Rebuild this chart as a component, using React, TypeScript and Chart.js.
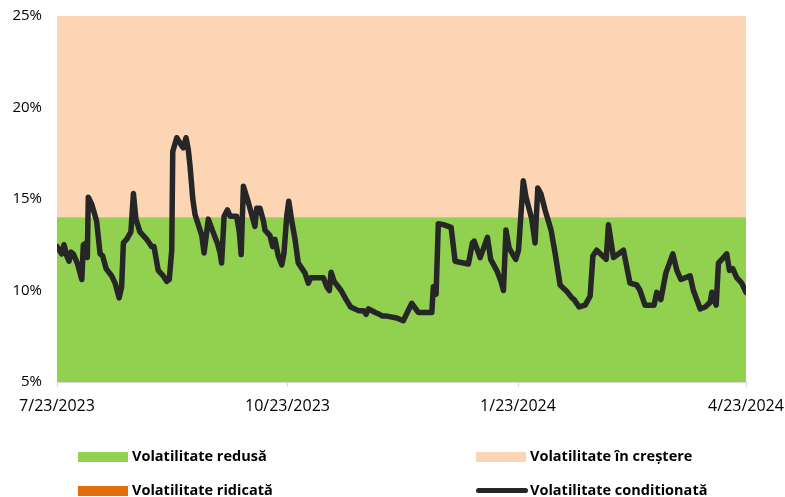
import React, { useEffect, useRef } from "react";
import { Chart, registerables } from "chart.js";

Chart.register(...registerables);

// x = days since 7/23/2023
const days: number[] = [
  0, 1.9, 2.8, 3.9, 4.8, 5.6, 6.5, 8.1, 9.9, 10.5, 11.6, 12.1, 12.5, 13.9, 15.8, 17.2, 18.2, 19.6,
  21.8, 23.2, 24.8, 25.8, 26.5, 27.8, 29.5, 30.5, 31.5, 33.1, 35.8, 37.8, 38.7, 40.4, 42.4, 43.8,
  44.8, 45.8, 46.2, 47.8, 49.8, 50.4, 51.5, 52.4, 53.1, 54.2, 55.1, 56.4, 57.8, 58.7, 60.4, 62.4,
  64.0, 65.1, 65.7, 66.7, 68.0, 69.1, 71.7, 72.8, 73.5, 74.4, 76.4, 78.0, 79.0, 79.7, 81.0, 82.4,
  83.0, 85.0, 86.1, 87.0, 88.3, 89.7, 90.6, 91.7, 92.5, 93.7, 95.0, 96.3, 99.0, 100.3, 101.3,
  106.3, 107.7, 108.7, 109.4, 110.6, 113.4, 115.4, 117.2, 120.3, 122.3, 123.4, 124.3, 127.0,
  128.7, 130.0, 131.6, 135.6, 138.2, 141.6, 144.2, 149.6, 150.2, 151.3, 152.2, 154.2, 157.3,
  158.9, 164.2, 165.8, 166.5, 168.9, 171.8, 173.1, 175.5, 177.2, 178.2, 179.2, 180.5, 183.1,
  184.2, 186.1, 187.2, 189.5, 190.8, 191.9, 193.1, 194.8, 197.2, 198.8, 200.8, 203.5, 205.5,
  206.4, 208.4, 210.8, 212.8, 213.9, 215.4, 219.2, 220.1, 222.1, 226.1, 228.7, 231.4, 232.7,
  234.7, 238.3, 239.4, 241.0, 243.0, 245.8, 247.4, 249.0, 252.7, 254.0, 256.7, 258.7, 260.7,
  261.4, 263.1, 264.0, 266.0, 267.3, 268.4, 269.7, 271.3, 273.3, 275.0,
];

const volatility: number[] = [
  12.4, 12.0, 12.5, 11.9, 11.6, 12.1, 12.0, 11.5, 10.6, 12.5, 12.6, 11.8, 15.1, 14.7, 13.8, 12.0, 11.9, 11.2,
  10.8, 10.4, 9.6, 10.2, 12.6, 12.8, 13.2, 15.3, 13.9, 13.2, 12.8, 12.4, 12.4, 11.1, 10.8, 10.5,
  10.6, 12.2, 17.6, 18.35, 17.9, 17.8, 18.35, 17.7, 16.8, 15.0, 14.15, 13.6, 13.0, 12.05, 13.9, 13.15,
  12.6, 12.05, 11.5, 14.06, 14.4, 14.06, 14.06, 13.15, 11.96, 15.7, 14.8, 14.0, 13.5, 14.5, 14.5, 13.8,
  13.3, 13.0, 12.4, 12.8, 11.9, 11.4, 12.05, 14.06, 14.88, 13.8, 12.8, 11.5, 10.95, 10.4, 10.7,
  10.7, 10.2, 10.0, 11.0, 10.5, 10.0, 9.5, 9.1, 8.9, 8.9, 8.7, 9.0, 8.8,
  8.7, 8.6, 8.6, 8.5, 8.35, 9.3, 8.8, 8.8, 10.2, 9.8, 13.65, 13.6, 13.45,
  11.6, 11.45, 12.6, 12.7, 11.8, 12.9, 11.7, 11.1, 10.5, 10.0, 13.3, 12.3, 11.7,
  12.2, 16.0, 15.1, 13.9, 12.6, 15.6, 15.3, 14.4, 13.3, 12.05, 10.3, 9.95, 9.6,
  9.5, 9.1, 9.2, 9.7, 11.9, 12.2, 11.7, 13.6, 11.8, 12.2, 10.4, 10.3, 10.0,
  9.2, 9.2, 9.9, 9.5, 10.95, 12.0, 11.1, 10.6, 10.8, 10.0, 9.0, 9.1, 9.35,
  9.9, 9.2, 11.5, 11.8, 12.0, 11.1, 11.2, 10.7, 10.4, 9.9,
];

const bandRange: number[] = [0, 275];
const lowBand: number[] = [14, 14];
const risingBand: number[] = [25, 25];

const tickDays: number[] = [0, 92, 184, 275];
const tickLabels: string[] = ["7/23/2023", "10/23/2023", "1/23/2024", "4/23/2024"];
const yTicks: number[] = [5, 10, 15, 20, 25];

const labelLow = "Volatilitate redusă";
const labelRising = "Volatilitate în creștere";
const labelHigh = "Volatilitate ridicată";
const labelCond = "Volatilitate conditionată";

const GREEN = "#92D050";
const PEACH = "#FCD5B5";
const ORANGE = "#E46C0A";
const LINE = "#262626";

export default function App() {
  const ref = useRef<HTMLCanvasElement | null>(null);

  useEffect(() => {
    if (!ref.current) return;
    const chart = new Chart(ref.current, {
      type: "line",
      data: {
        datasets: [
          {
            label: labelLow,
            data: bandRange.map((x, i) => ({ x, y: lowBand[i] })),
            backgroundColor: GREEN,
            borderWidth: 0,
            pointRadius: 0,
            fill: "start",
            order: 2,
          },
          {
            label: labelRising,
            data: bandRange.map((x, i) => ({ x, y: risingBand[i] })),
            backgroundColor: PEACH,
            borderWidth: 0,
            pointRadius: 0,
            fill: "-1",
            order: 3,
          },
          {
            label: labelHigh,
            data: [],
            backgroundColor: ORANGE,
            borderWidth: 0,
            pointRadius: 0,
            order: 4,
          },
          {
            label: labelCond,
            data: days.map((x, i) => ({ x, y: volatility[i] })),
            borderColor: LINE,
            borderWidth: 5.5,
            pointRadius: 0,
            tension: 0,
            fill: false,
            borderJoinStyle: "round",
            borderCapStyle: "round",
            order: 0,
          },
        ],
      },
      options: {
        animation: false,
        responsive: false,
        maintainAspectRatio: false,
        layout: { padding: { left: 0, top: 11, right: 39, bottom: 70 } },
        plugins: { legend: { display: false }, tooltip: { enabled: false } },
        scales: {
          x: {
            type: "linear",
            min: 0,
            max: 275,
            afterBuildTicks: (scale: any) => {
              scale.ticks = tickDays.map((v) => ({ value: v }));
            },
            afterFit: (scale: any) => {
              scale.height = 45;
              scale.paddingLeft = 0;
              scale.paddingRight = 0;
            },
            ticks: {
              autoSkip: false,
              maxRotation: 0,
              padding: 10,
              color: "#000",
              font: { family: "'Open Sans'", size: 16 },
              callback: (v: any) => {
                const i = tickDays.indexOf(Number(v));
                return i >= 0 ? tickLabels[i] : "";
              },
            },
            grid: {
              drawOnChartArea: false,
              drawTicks: true,
              tickLength: 5,
              color: "#d9d9d9",
              lineWidth: 1,
            },
            border: { display: true, color: "#d9d9d9", width: 1 },
          },
          y: {
            min: 5,
            max: 25,
            afterBuildTicks: (scale: any) => {
              scale.ticks = yTicks.map((v) => ({ value: v }));
            },
            afterFit: (scale: any) => {
              scale.width = 57;
            },
            ticks: {
              padding: 7,
              color: "#000",
              font: { family: "'Open Sans'", size: 15 },
              callback: (v: any) => `${v}%`,
            },
            grid: { display: false },
            border: { display: false },
          },
        },
      },
    } as any);
    return () => chart.destroy();
  }, []);

  const legendText: React.CSSProperties = {
    position: "absolute",
    fontFamily: "'Open Sans', sans-serif",
    fontWeight: 700,
    fontSize: 14.5,
    color: "#000",
    lineHeight: "18px",
    whiteSpace: "nowrap",
  };

  const box = (left: number, top: number, color: string): React.CSSProperties => ({
    position: "absolute",
    left,
    top,
    width: 50,
    height: 10,
    background: color,
  });

  return (
    <div style={{ position: "absolute", left: 0, top: 0, width: 785, height: 497, background: "#fff", overflow: "hidden" }}>
      <canvas ref={ref} width={785} height={497} style={{ width: 785, height: 497, display: "block" }} />
      <div style={box(78, 452, GREEN)} />
      <div style={{ ...legendText, left: 132, top: 447 }}>{labelLow}</div>
      <div style={box(476, 452, PEACH)} />
      <div style={{ ...legendText, left: 530, top: 447 }}>{labelRising}</div>
      <div style={box(78, 486, ORANGE)} />
      <div style={{ ...legendText, left: 132, top: 481 }}>{labelHigh}</div>
      <div
        style={{
          position: "absolute",
          left: 476,
          top: 488,
          width: 52,
          height: 5,
          borderRadius: 3,
          background: LINE,
        }}
      />
      <div style={{ ...legendText, left: 530, top: 481 }}>{labelCond}</div>
    </div>
  );
}
